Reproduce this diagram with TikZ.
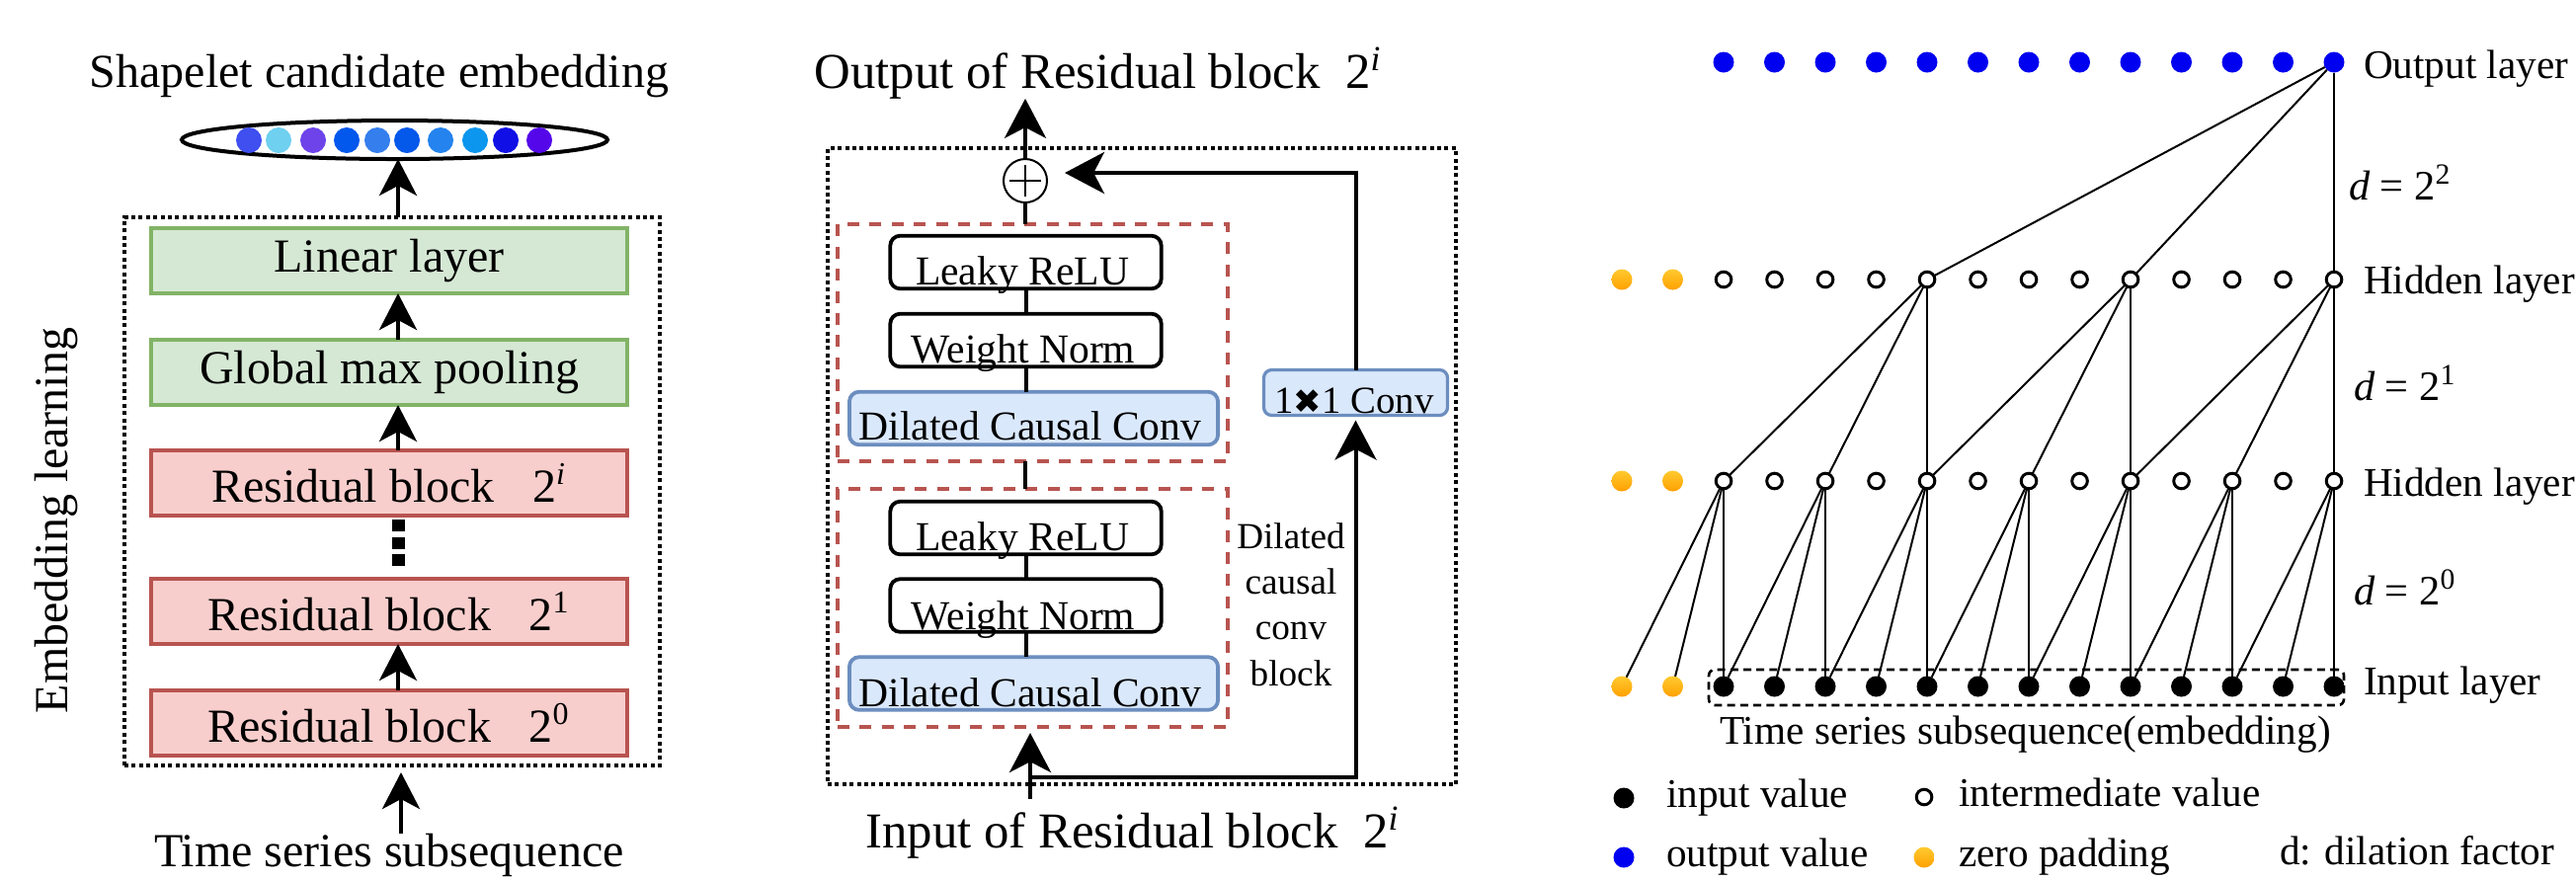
\documentclass[tikz,border=0pt]{standalone}
\usepackage{fontspec}
\setmainfont{Liberation Serif}
\newfontfamily\dejavu{DejaVu Sans}
\usetikzlibrary{arrows.meta,shapes.geometric,calc}
\definecolor{grnF}{HTML}{D5E8D4}
\definecolor{grnB}{HTML}{82B366}
\definecolor{redF}{HTML}{F8CECC}
\definecolor{redB}{HTML}{B85450}
\definecolor{bluF}{HTML}{DAE8FC}
\definecolor{bluB}{HTML}{6C8EBF}
\definecolor{dotblue}{HTML}{0000F0}
\definecolor{padA}{HTML}{FFCA30}
\definecolor{padB}{HTML}{FFA000}
\definecolor{ec1}{HTML}{3F4FF0}
\definecolor{ec2}{HTML}{6FD0F0}
\definecolor{ec3}{HTML}{6E44EA}
\definecolor{ec4}{HTML}{0257EC}
\definecolor{ec5}{HTML}{347EEE}
\definecolor{ec6}{HTML}{0458EA}
\definecolor{ec7}{HTML}{2483EE}
\definecolor{ec8}{HTML}{0C96EE}
\definecolor{ec9}{HTML}{1010E6}
\definecolor{ec10}{HTML}{5408EA}
\newcommand{\fsz}[1]{\fontsize{#1pt}{#1pt}\selectfont}
\tikzset{
 gbox/.style={draw=grnB, fill=grnF, line width=1pt, minimum width=120.5pt, minimum height=16.5pt, font=\fsz{12}},
 rbox/.style={draw=redB, fill=redF, line width=1pt, minimum width=120.5pt, minimum height=16.5pt, font=\fsz{12}},
 dotbox/.style={draw, line width=1.05pt, dash pattern=on 1pt off 0.85pt},
 redd/.style={draw=redB, line width=0.95pt, dash pattern=on 3pt off 2.6pt},
 wbox/.style={draw, line width=0.95pt, rounded corners=2.5pt, fill=white, minimum width=68.6pt, minimum height=13.4pt},
 cbox/.style={draw=bluB, fill=bluF, line width=0.95pt, rounded corners=2.5pt, minimum width=93.3pt, minimum height=13.4pt},
 btxt/.style={anchor=base, font=\fsz{10.4}},
 arrL/.style={line width=1.1pt, -{Stealth[length=9.25pt,width=9.5pt,inset=2.5pt]}},
 arrM/.style={line width=1pt, -{Stealth[length=10pt,width=10.5pt,inset=2.7pt]}},
 lnk/.style={line width=1pt},
 con/.style={line width=0.5pt},
 bdot/.style={circle, fill=dotblue, minimum size=5.25pt},
 kdot/.style={circle, fill=black, minimum size=5.25pt},
 ydot/.style={circle, top color=padA, bottom color=padB, minimum size=5.25pt},
 odot/.style={circle, draw, fill=white, line width=0.75pt, minimum size=3.9pt},
 lab/.style={anchor=base west, font=\fsz{10.3}},
 edot/.style={circle, minimum size=6.5pt},
}
\begin{document}
\begin{tikzpicture}[x=0.25pt,y=-0.25pt, every node/.style={inner sep=0pt, outer sep=0pt}]
\fill[white] (0,0) rectangle (2608,892);
\useasboundingbox (0,0) rectangle (2608,892);

% ---------------- left panel ----------------
\node[anchor=base, font=\fsz{12}] (title) at (384,88) {Shapelet candidate embedding};
\node[draw, ellipse, line width=1pt, minimum width=107.75pt, minimum height=9.75pt] (emb) at (399.5,141.5) {};
\foreach \xx [count=\k] in {252,282,317,351,382,412,446,481,512,546}
  \node[edot, fill=ec\k] (e\k) at (\xx,142) {};
\node[dotbox, minimum width=135.5pt, minimum height=138.75pt] (embbox) at (397,497.5) {};
\node[gbox] (lin) at (394,264) {Linear layer};
\node[gbox] (glob) at (394,377) {Global max pooling};
\node[rbox] (r2i) at (394,489) {Residual block\hspace{0.8em}2\textsuperscript{\textit{i}}\hspace{4.5pt}};
\node[rbox] (r21) at (394,619) {Residual block\hspace{0.8em}2\textsuperscript{1}\hspace{4.5pt}};
\node[rbox] (r20) at (394,732) {Residual block\hspace{0.8em}2\textsuperscript{0}\hspace{4.5pt}};
\coordinate (ax) at (403,0);
\draw[arrL] (embbox.north -| ax) -- (emb.south -| ax);
\draw[arrL] (glob.north -| ax) -- (lin.south -| ax);
\draw[arrL] (r2i.north -| ax) -- (glob.south -| ax);
\draw[arrL] (r20.north -| ax) -- (r21.south -| ax);
\draw[line width=3.25pt, dash pattern=on 3pt off 1.375pt, shorten <=1pt, shorten >=2.25pt] (r2i.south -| ax) -- (r21.north -| ax);
\node[anchor=base, font=\fsz{12}] (ts) at (394,877) {Time series subsequence};
\coordinate (tsA) at (406,844);
\draw[arrL, shorten >=1.75pt] (tsA) -- (embbox.south -| tsA);
\node[rotate=90, font=\fsz{12}] (el) at (57,527) {Embedding learning};

% ---------------- middle panel ----------------
\node[anchor=base, font=\fsz{12.7}] (outt) at (1112,89) {Output of Residual block\hspace{0.5em}2\textsuperscript{\textit{i}}};
\node[dotbox, minimum width=159pt, minimum height=161pt] (rbox) at (1156,472) {};
\node[redd, minimum width=98.75pt, minimum height=60pt] (dA) at (1045.5,347) {};
\node[redd, minimum width=98.75pt, minimum height=60.25pt] (dB) at (1045.5,615.5) {};
\node[circle, draw, line width=0.5pt, minimum size=11pt, fill=white] (plus) at (1038,183) {};
\draw[line width=0.5pt] ($(plus.center)+(-16,0)$) -- ($(plus.center)+(16,0)$);
\draw[line width=0.5pt] ($(plus.center)+(0,-16)$) -- ($(plus.center)+(0,16)$);

\node[wbox] (lr1) at (1038.5,265.5) {};
\node[wbox] (wn1) at (1038.5,344.5) {};
\node[cbox] (dc1) at (1046.5,423.5) {};
\node[wbox] (lr2) at (1038.5,534.5) {};
\node[wbox] (wn2) at (1038.5,613) {};
\node[cbox] (dc2) at (1046.5,692) {};
\node[btxt] (lr1t) at (1035,288) {Leaky ReLU};
\node[btxt] (wn1t) at (1036,367) {Weight Norm};
\node[btxt] (dc1t) at (1043,445) {Dilated Causal Conv};
\node[btxt] (lr2t) at (1035,557) {Leaky ReLU};
\node[btxt] (wn2t) at (1036,637) {Weight Norm};
\node[btxt] (dc2t) at (1043,715) {Dilated Causal Conv};

\node[draw=bluB, fill=bluF, line width=0.8pt, rounded corners=2pt, minimum width=46.5pt, minimum height=11.5pt] (c11) at (1372.5,397.5) {};
\node[anchor=base, font=\fsz{9.7}] (c11t) at (1371,418) {1{\dejavu\fsz{8.5}✖}1 Conv};

\node[align=center, font=\fontsize{9.3pt}{11.6pt}\selectfont] (dccb) at (1307,612) {Dilated\\causal\\conv\\block};

\draw[lnk] (lr1.south) -- (wn1.north);
\draw[lnk] (wn1.south) -- (wn1.south |- dc1.north);
\draw[lnk] (lr2.south) -- (wn2.north);
\draw[lnk] (wn2.south) -- (wn2.south |- dc2.north);
\draw[lnk] (plus.south) -- (plus.south |- dA.north);
\draw[lnk] (dA.south -| plus) -- (dB.north -| plus);
\draw[arrM] (plus.north) -- (plus.north |- outt.south);

\node[anchor=base, font=\fsz{12.7}] (intt) at (1147,858) {Input of Residual block\hspace{0.5em}2\textsuperscript{\textit{i}}};
\coordinate (inA) at (1043,809);
\draw[arrM, shorten >=1.5pt] (inA) -- (inA |- dB.south);
\coordinate (byp) at (1043,787);
\draw[arrM, shorten >=1.25pt] (byp) -| (c11.south);
\coordinate (fb) at (1060,175);
\draw[arrM, shorten >=4.5pt] (c11.north) |- (fb);

% ---------------- right panel ----------------
\node[draw, line width=0.65pt, dash pattern=on 2pt off 1.3pt, rounded corners=1.5pt, minimum width=160.75pt, minimum height=9pt] (inbox) at (2051.5,696) {};
\foreach \j in {2,...,14} \node[bdot] (o\j) at ({1642+51.5*\j},63) {};
\foreach \j in {0,1} {
  \node[ydot] (a\j) at ({1642+51.5*\j},283) {};
  \node[ydot] (b\j) at ({1642+51.5*\j},487) {};
  \node[ydot] (n\j) at ({1642+51.5*\j},695) {};
}
\foreach \j in {2,...,14} {
  \node[odot] (a\j) at ({1642+51.5*\j},283) {};
  \node[odot] (b\j) at ({1642+51.5*\j},487) {};
  \node[kdot] (n\j) at ({1642+51.5*\j},695) {};
}
\foreach \j in {6,10,14} \draw[con] (o14) -- (a\j);
\foreach \j/\k in {6/2,6/4,6/6,10/6,10/8,10/10,14/10,14/12,14/14} \draw[con] (a\j) -- (b\k);
\foreach \j in {2,4,...,14} {
  \pgfmathtruncatemacro\ja{\j-1}
  \pgfmathtruncatemacro\jb{\j-2}
  \draw[con] (b\j) -- (n\j);
  \draw[con] (b\j) -- (n\ja);
  \draw[con] (b\j) -- (n\jb);
}
\node[lab] (lo) at (2393,79) {Output layer};
\node[lab] (lh1) at (2393,297) {Hidden layer};
\node[lab] (lh2) at (2393,502) {Hidden layer};
\node[lab] (li) at (2393,703) {Input layer};
\node[lab, font=\fsz{10.6}] (d2) at (2378,202) {\textit{d} = 2\textsuperscript{2}};
\node[lab, font=\fsz{10.6}] (d1) at (2383,405) {\textit{d} = 2\textsuperscript{1}};
\node[lab, font=\fsz{10.6}] (d0) at (2383,612) {\textit{d} = 2\textsuperscript{0}};
\node[anchor=base, font=\fsz{10.3}] (tse) at (2050.5,753) {Time series subsequence(embedding)};

\node[kdot] (lg1) at (1644,808) {};
\node[lab] (lg1t) at (1687,817) {input value};
\node[odot] (lg2) at (1948,807) {};
\node[lab] (lg2t) at (1983,816) {intermediate value};
\node[bdot] (lg3) at (1644,868) {};
\node[lab] (lg3t) at (1687,877) {output value};
\node[ydot] (lg4) at (1948,868) {};
\node[lab] (lg4t) at (1983,877) {zero padding};
\node[lab] (lg5t) at (2308,875) {d: dilation factor};
\end{tikzpicture}
\end{document}
